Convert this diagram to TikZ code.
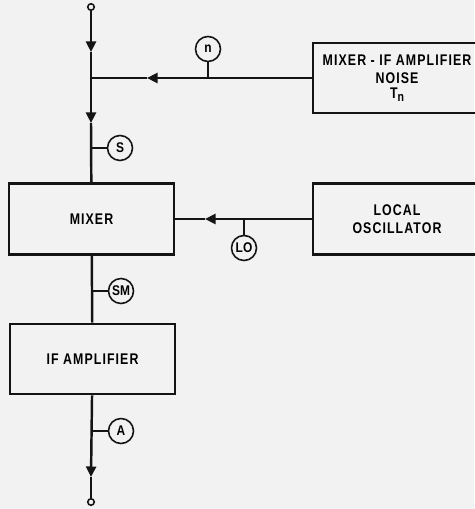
\documentclass[tikz,border=0pt]{standalone}
\usepackage{fontspec}
\newfontfamily\blockfont{Liberation Sans}[FakeStretch=0.8, LetterSpace=7]
\newfontfamily\probefont{Liberation Sans}[FakeStretch=0.85]
\usepackage{tikz}
\usetikzlibrary{arrows.meta, positioning}
\definecolor{paper}{RGB}{242, 242, 242}
\definecolor{ink}{RGB}{20, 20, 20}

\tikzset{
	block/.style={draw=ink, line width=1.5pt, minimum width=3.3cm, minimum height=1.42cm,
		align=center, font=\blockfont\bfseries\fontsize{8.8}{10.2}\selectfont},
	wire/.style={draw=ink, line width=1.4pt},
	flow/.style={wire, -{Triangle[length=0.21cm, width=0.2cm]}},
	stub/.style={draw=ink, line width=0.9pt},
	probe/.style={draw=ink, circle, line width=0.9pt, minimum size=0.5cm, inner sep=0pt,
		font=\probefont\bfseries\fontsize{8}{8}\selectfont},
	terminal/.style={draw=ink, circle, line width=0.9pt, minimum size=0.13cm, inner sep=0pt, fill=paper},
}

\begin{document}
\begin{tikzpicture}[x=0.02cm, y=-0.02cm]
	\fill[paper] (0,0) rectangle (474,509);
	\useasboundingbox (0,0) rectangle (474,509);
	% blocks
	\node[block] (mixer) at (91.5,219) {MIXER};
	\node[block, minimum height=1.4cm] (ifamp) at (92.5,359) {IF AMPLIFIER};
	\node[block, minimum width=3.36cm, minimum height=1.4cm, inner xsep=0pt] (noise) at (397,78)
		{MIXER - IF AMPLIFIER\\NOISE\\[-1.5pt]T\raisebox{-0.35ex}{\fontsize{7.5}{8}\selectfont n}};
	\node[block, minimum width=3.36cm] (losc) at (397,219) {LOCAL\\OSCILLATOR};
	% signal path
	\node[terminal] (in) at (91,7) {};
	\node[terminal] (out) at (91,502) {};
	\coordinate (tipA) at (91,52);
	\coordinate (join) at (91,78);
	\coordinate (tipB) at (91,123);
	\coordinate (tipN) at (147,78);
	\coordinate (tipL) at (205,219);
	\coordinate (tipC) at (91,477);
	\draw[flow] (in) -- (tipA);
	\draw[flow] (tipA) -- (tipB);
	\draw[wire] (tipB) -- (mixer);
	\draw[flow] (noise.west) -- (tipN);
	\draw[wire] (tipN) -- (join);
	\draw[flow] (losc.west) -- (tipL);
	\draw[wire] (tipL) -- (mixer.east);
	\draw[wire] (mixer) -- (ifamp);
	\draw[flow] (ifamp) -- (tipC);
	\draw[wire] (tipC) -- (out);
	% measuring points
	\node[probe] (n) at (208,49) {n};
	\node[probe] (s) at (120,148) {S};
	\node[probe] (lo) at (244,248) {LO};
	\node[probe] (sm) at (121,291) {SM};
	\node[probe] (a) at (121,431) {A};
	\draw[stub] (n) -- (n |- join);
	\draw[stub] (s) -- (s -| join);
	\draw[stub] (lo) -- (lo |- mixer.east);
	\draw[stub] (sm) -- (sm -| join);
	\draw[stub] (a) -- (a -| join);
\end{tikzpicture}
\end{document}
